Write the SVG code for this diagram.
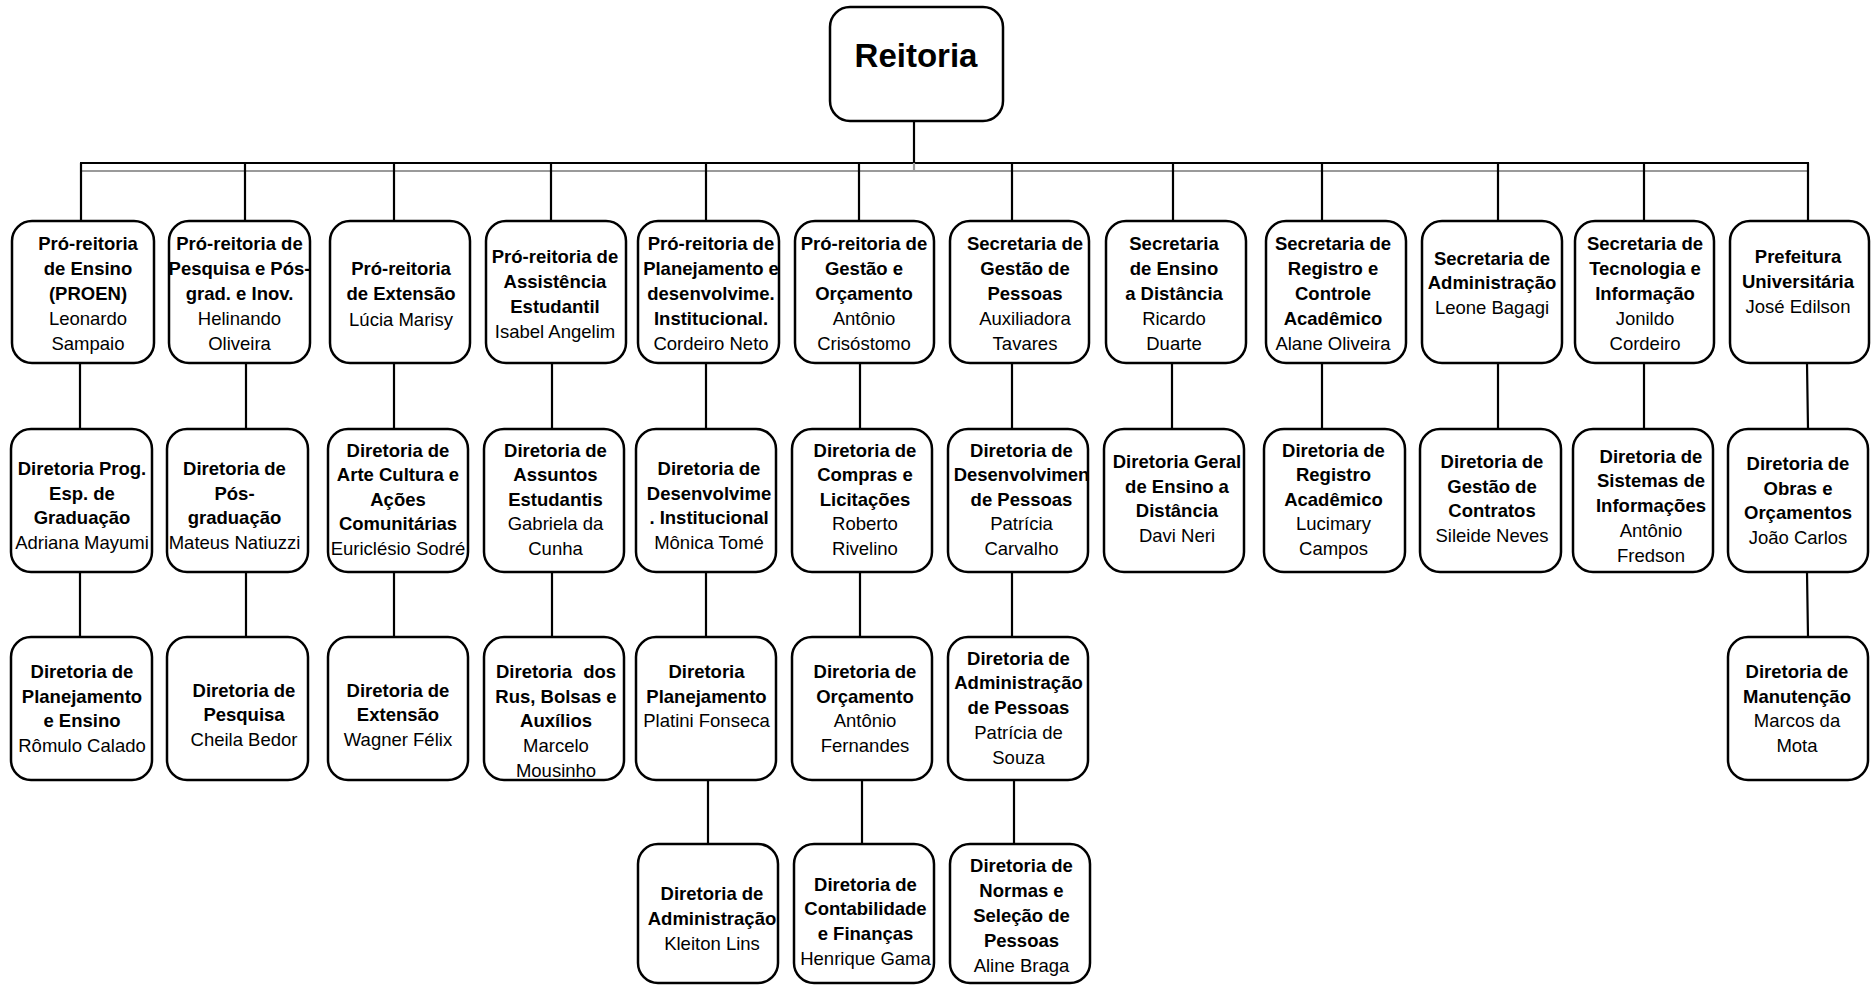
<svg xmlns="http://www.w3.org/2000/svg" width="1871" height="985" viewBox="0 0 1871 985">
<style>
.box{fill:#fff;stroke:#000;stroke-width:2.5}
.t{font-family:"Liberation Sans",Arial,sans-serif;font-size:18.5px;fill:#000;text-anchor:middle}
.b{font-weight:bold}
.big{font-size:33px}
.k{stroke:#000;stroke-width:2.2;fill:none}
.g{stroke:#9a9a9a;stroke-width:2.2;fill:none}
</style>
<rect width="1871" height="985" fill="#fff"/>
<g id="connectors">
<line class="g" x1="81" y1="171" x2="1808" y2="171"/>
<line class="k" x1="80" y1="163" x2="1809" y2="163" stroke-width="3"/>
<line class="k" x1="914" y1="121" x2="914" y2="163"/>
<line class="g" x1="914" y1="163" x2="914" y2="172"/>
<path class="k" d="M81 163V221M245 163V221M394 163V221M551 163V221M706 163V221M859 163V221M1012 163V221M1173 163V221M1322 163V221M1498 163V221M1644 163V221M1808 163V221"/>
<path class="g" d="M81 221V230M245 221V230M394 221V230M551 221V230M706 221V230M859 221V230M1012 221V230M1173 221V230M1322 221V230M1498 221V230M1644 221V230M1808 221V230"/>
<path class="k" d="M80 363V429M246 363V429M394 363V429M552 363V429M706 363V429M860 363V429M1012 363V429M1172 363V429M1322 363V429M1498 363V429M1644 363V429M1807 363L1808 429"/>
<path class="g" d="M80 429V437M246 429V437M394 429V437M552 429V437M706 429V437M860 429V437M1012 429V437M1172 429V437M1322 429V437M1498 429V437M1644 429V437M1808 429V437"/>
<path class="k" d="M80 572V637M246 572V637M394 572V637M552 572V637M706 572V637M860 572V637M1012 572V637M1807 572L1808 637"/>
<path class="g" d="M80 637V645M246 637V645M394 637V645M552 637V645M706 637V645M860 637V645M1012 637V645M1808 637V645"/>
<path class="k" d="M708 780V844M862 780V844M1014 780V844"/>
<path class="g" d="M708 844V852M862 844V852M1014 844V852"/>
</g>
<g id="n-reitoria"><rect class="box" x="830" y="7" width="173" height="114" rx="20"/><text class="t b big" x="916" y="67">Reitoria</text></g>

<g id="n-r1b1"><rect class="box" x="12" y="221" width="142" height="142" rx="20"/><text class="t"><tspan class="b" x="88" y="249.5">Pró-reitoria</tspan><tspan class="b" x="88" y="274.5">de Ensino</tspan><tspan class="b" x="88" y="299.5">(PROEN)</tspan><tspan x="88" y="324.5">Leonardo</tspan><tspan x="88" y="349.5">Sampaio</tspan></text></g>
<g id="n-r1b2"><rect class="box" x="169" y="221" width="141" height="142" rx="20"/><text class="t"><tspan class="b" x="239.5" y="249.5">Pró-reitoria de</tspan><tspan class="b" x="239.5" y="274.5">Pesquisa e Pós-</tspan><tspan class="b" x="239.5" y="299.5">grad. e Inov.</tspan><tspan x="239.5" y="324.5">Helinando</tspan><tspan x="239.5" y="349.5">Oliveira</tspan></text></g>
<g id="n-r1b3"><rect class="box" x="330" y="221" width="140" height="142" rx="20"/><text class="t"><tspan class="b" x="401" y="274.5">Pró-reitoria</tspan><tspan class="b" x="401" y="299.5">de Extensão</tspan><tspan x="401" y="326">Lúcia Marisy</tspan></text></g>
<g id="n-r1b4"><rect class="box" x="486" y="221" width="140" height="142" rx="20"/><text class="t"><tspan class="b" x="555" y="263">Pró-reitoria de</tspan><tspan class="b" x="555" y="288">Assistência</tspan><tspan class="b" x="555" y="313">Estudantil</tspan><tspan x="555" y="338">Isabel Angelim</tspan></text></g>
<g id="n-r1b5"><rect class="box" x="638" y="221" width="141" height="142" rx="20"/><text class="t"><tspan class="b" x="711" y="249.5">Pró-reitoria de</tspan><tspan class="b" x="711" y="274.5">Planejamento e</tspan><tspan class="b" x="711" y="299.5">desenvolvime.</tspan><tspan class="b" x="711" y="324.5">Institucional.</tspan><tspan x="711" y="349.5">Cordeiro Neto</tspan></text></g>
<g id="n-r1b6"><rect class="box" x="795" y="221" width="139" height="142" rx="20"/><text class="t"><tspan class="b" x="864" y="249.5">Pró-reitoria de</tspan><tspan class="b" x="864" y="274.5">Gestão e</tspan><tspan class="b" x="864" y="299.5">Orçamento</tspan><tspan x="864" y="324.5">Antônio</tspan><tspan x="864" y="349.5">Crisóstomo</tspan></text></g>
<g id="n-r1b7"><rect class="box" x="950" y="221" width="139" height="142" rx="20"/><text class="t"><tspan class="b" x="1025" y="249.5">Secretaria de</tspan><tspan class="b" x="1025" y="274.5">Gestão de</tspan><tspan class="b" x="1025" y="299.5">Pessoas</tspan><tspan x="1025" y="324.5">Auxiliadora</tspan><tspan x="1025" y="349.5">Tavares</tspan></text></g>
<g id="n-r1b8"><rect class="box" x="1106" y="221" width="140" height="142" rx="20"/><text class="t"><tspan class="b" x="1174" y="249.5">Secretaria</tspan><tspan class="b" x="1174" y="274.5">de Ensino</tspan><tspan class="b" x="1174" y="299.5">a Distância</tspan><tspan x="1174" y="324.5">Ricardo</tspan><tspan x="1174" y="349.5">Duarte</tspan></text></g>
<g id="n-r1b9"><rect class="box" x="1266" y="221" width="140" height="142" rx="20"/><text class="t"><tspan class="b" x="1333" y="249.5">Secretaria de</tspan><tspan class="b" x="1333" y="274.5">Registro e</tspan><tspan class="b" x="1333" y="299.5">Controle</tspan><tspan class="b" x="1333" y="324.5">Acadêmico</tspan><tspan x="1333" y="349.5">Alane Oliveira</tspan></text></g>
<g id="n-r1b10"><rect class="box" x="1422" y="221" width="140" height="142" rx="20"/><text class="t"><tspan class="b" x="1492" y="264.5">Secretaria de</tspan><tspan class="b" x="1492" y="289">Administração</tspan><tspan x="1492" y="313.5">Leone Bagagi</tspan></text></g>
<g id="n-r1b11"><rect class="box" x="1575" y="221" width="139" height="142" rx="20"/><text class="t"><tspan class="b" x="1645" y="249.5">Secretaria de</tspan><tspan class="b" x="1645" y="274.5">Tecnologia e</tspan><tspan class="b" x="1645" y="299.5">Informação</tspan><tspan x="1645" y="324.5">Jonildo</tspan><tspan x="1645" y="349.5">Cordeiro</tspan></text></g>
<g id="n-r1b12"><rect class="box" x="1730" y="221" width="139" height="142" rx="20"/><text class="t"><tspan class="b" x="1798" y="263">Prefeitura</tspan><tspan class="b" x="1798" y="288">Universitária</tspan><tspan x="1798" y="313">José Edilson</tspan></text></g>

<g id="n-r2b1"><rect class="box" x="11" y="429" width="141" height="143" rx="20"/><text class="t"><tspan class="b" x="82" y="475">Diretoria Prog.</tspan><tspan class="b" x="82" y="499.5">Esp. de</tspan><tspan class="b" x="82" y="524">Graduação</tspan><tspan x="82" y="548.5">Adriana Mayumi</tspan></text></g>
<g id="n-r2b2"><rect class="box" x="167" y="429" width="141" height="143" rx="20"/><text class="t"><tspan class="b" x="234.5" y="475">Diretoria de</tspan><tspan class="b" x="234.5" y="499.5">Pós-</tspan><tspan class="b" x="234.5" y="524">graduação</tspan><tspan x="234.5" y="548.5">Mateus Natiuzzi</tspan></text></g>
<g id="n-r2b3"><rect class="box" x="328" y="429" width="140" height="143" rx="20"/><text class="t"><tspan class="b" x="398" y="456.5">Diretoria de</tspan><tspan class="b" x="398" y="481">Arte Cultura e</tspan><tspan class="b" x="398" y="505.5">Ações</tspan><tspan class="b" x="398" y="530">Comunitárias</tspan><tspan x="398" y="555">Euriclésio Sodré</tspan></text></g>
<g id="n-r2b4"><rect class="box" x="484" y="429" width="140" height="143" rx="20"/><text class="t"><tspan class="b" x="555.5" y="456.5">Diretoria de</tspan><tspan class="b" x="555.5" y="481">Assuntos</tspan><tspan class="b" x="555.5" y="505.5">Estudantis</tspan><tspan x="555.5" y="530">Gabriela da</tspan><tspan x="555.5" y="555">Cunha</tspan></text></g>
<g id="n-r2b5"><rect class="box" x="636" y="429" width="140" height="143" rx="20"/><text class="t"><tspan class="b" x="709" y="475">Diretoria de</tspan><tspan class="b" x="709" y="499.5">Desenvolvime</tspan><tspan class="b" x="709" y="524">. Institucional</tspan><tspan x="709" y="548.5">Mônica Tomé</tspan></text></g>
<g id="n-r2b6"><rect class="box" x="792" y="429" width="140" height="143" rx="20"/><text class="t"><tspan class="b" x="865" y="456.5">Diretoria de</tspan><tspan class="b" x="865" y="481">Compras e</tspan><tspan class="b" x="865" y="505.5">Licitações</tspan><tspan x="865" y="530">Roberto</tspan><tspan x="865" y="555">Rivelino</tspan></text></g>
<g id="n-r2b7"><rect class="box" x="948" y="429" width="140" height="143" rx="20"/><text class="t"><tspan class="b" x="1021.5" y="456.5">Diretoria de</tspan><tspan class="b" x="1021.5" y="481">Desenvolvimen</tspan><tspan class="b" x="1021.5" y="505.5">de Pessoas</tspan><tspan x="1021.5" y="530">Patrícia</tspan><tspan x="1021.5" y="555">Carvalho</tspan></text></g>
<g id="n-r2b8"><rect class="box" x="1104" y="429" width="140" height="143" rx="20"/><text class="t"><tspan class="b" x="1177" y="468">Diretoria Geral</tspan><tspan class="b" x="1177" y="492.5">de Ensino a</tspan><tspan class="b" x="1177" y="517">Distância</tspan><tspan x="1177" y="542">Davi Neri</tspan></text></g>
<g id="n-r2b9"><rect class="box" x="1264" y="429" width="141" height="143" rx="20"/><text class="t"><tspan class="b" x="1333.5" y="456.5">Diretoria de</tspan><tspan class="b" x="1333.5" y="481">Registro</tspan><tspan class="b" x="1333.5" y="505.5">Acadêmico</tspan><tspan x="1333.5" y="530">Lucimary</tspan><tspan x="1333.5" y="555">Campos</tspan></text></g>
<g id="n-r2b10"><rect class="box" x="1420" y="429" width="141" height="143" rx="20"/><text class="t"><tspan class="b" x="1492" y="468">Diretoria de</tspan><tspan class="b" x="1492" y="492.5">Gestão de</tspan><tspan class="b" x="1492" y="517">Contratos</tspan><tspan x="1492" y="542">Sileide Neves</tspan></text></g>
<g id="n-r2b11"><rect class="box" x="1573" y="429" width="140" height="143" rx="20"/><text class="t"><tspan class="b" x="1651" y="462.5">Diretoria de</tspan><tspan class="b" x="1651" y="487">Sistemas de</tspan><tspan class="b" x="1651" y="511.5">Informações</tspan><tspan x="1651" y="536.5">Antônio</tspan><tspan x="1651" y="561.5">Fredson</tspan></text></g>
<g id="n-r2b12"><rect class="box" x="1728" y="429" width="140" height="143" rx="20"/><text class="t"><tspan class="b" x="1798" y="470">Diretoria de</tspan><tspan class="b" x="1798" y="494.5">Obras e</tspan><tspan class="b" x="1798" y="519">Orçamentos</tspan><tspan x="1798" y="544">João Carlos</tspan></text></g>

<g id="n-r3b1"><rect class="box" x="11" y="637" width="141" height="143" rx="20"/><text class="t"><tspan class="b" x="82" y="678">Diretoria de</tspan><tspan class="b" x="82" y="703">Planejamento</tspan><tspan class="b" x="82" y="727">e Ensino</tspan><tspan x="82" y="752">Rômulo Calado</tspan></text></g>
<g id="n-r3b2"><rect class="box" x="167" y="637" width="141" height="143" rx="20"/><text class="t"><tspan class="b" x="244" y="696.5">Diretoria de</tspan><tspan class="b" x="244" y="720.5">Pesquisa</tspan><tspan x="244" y="745.5">Cheila Bedor</tspan></text></g>
<g id="n-r3b3"><rect class="box" x="328" y="637" width="140" height="143" rx="20"/><text class="t"><tspan class="b" x="398" y="696.5">Diretoria de</tspan><tspan class="b" x="398" y="720.5">Extensão</tspan><tspan x="398" y="745.5">Wagner Félix</tspan></text></g>
<g id="n-r3b4"><rect class="box" x="484" y="637" width="140" height="143" rx="20"/><text class="t"><tspan class="b" x="556" y="678" word-spacing="6">Diretoria dos</tspan><tspan class="b" x="556" y="703">Rus, Bolsas e</tspan><tspan class="b" x="556" y="727">Auxílios</tspan><tspan x="556" y="752">Marcelo</tspan><tspan x="556" y="777">Mousinho</tspan></text></g>
<g id="n-r3b5"><rect class="box" x="636" y="637" width="140" height="143" rx="20"/><text class="t"><tspan class="b" x="706.5" y="678">Diretoria</tspan><tspan class="b" x="706.5" y="703">Planejamento</tspan><tspan x="706.5" y="727">Platini Fonseca</tspan></text></g>
<g id="n-r3b6"><rect class="box" x="792" y="637" width="140" height="143" rx="20"/><text class="t"><tspan class="b" x="865" y="678">Diretoria de</tspan><tspan class="b" x="865" y="703">Orçamento</tspan><tspan x="865" y="727">Antônio</tspan><tspan x="865" y="752">Fernandes</tspan></text></g>
<g id="n-r3b7"><rect class="box" x="948" y="637" width="140" height="143" rx="20"/><text class="t"><tspan class="b" x="1018.5" y="665">Diretoria de</tspan><tspan class="b" x="1018.5" y="689">Administração</tspan><tspan class="b" x="1018.5" y="714">de Pessoas</tspan><tspan x="1018.5" y="739">Patrícia de</tspan><tspan x="1018.5" y="763.5">Souza</tspan></text></g>
<g id="n-r3b12"><rect class="box" x="1728" y="637" width="140" height="143" rx="20"/><text class="t"><tspan class="b" x="1797" y="678">Diretoria de</tspan><tspan class="b" x="1797" y="703">Manutenção</tspan><tspan x="1797" y="727">Marcos da</tspan><tspan x="1797" y="752">Mota</tspan></text></g>

<g id="n-r4b5"><rect class="box" x="638" y="844" width="140" height="139" rx="20"/><text class="t"><tspan class="b" x="712" y="900">Diretoria de</tspan><tspan class="b" x="712" y="925">Administração</tspan><tspan x="712" y="950">Kleiton Lins</tspan></text></g>
<g id="n-r4b6"><rect class="box" x="794" y="844" width="140" height="139" rx="20"/><text class="t"><tspan class="b" x="865.5" y="890.5">Diretoria de</tspan><tspan class="b" x="865.5" y="915">Contabilidade</tspan><tspan class="b" x="865.5" y="939.5">e Finanças</tspan><tspan x="865.5" y="964.5">Henrique Gama</tspan></text></g>
<g id="n-r4b7"><rect class="box" x="950" y="844" width="140" height="139" rx="20"/><text class="t"><tspan class="b" x="1021.5" y="872">Diretoria de</tspan><tspan class="b" x="1021.5" y="896.5">Normas e</tspan><tspan class="b" x="1021.5" y="921.5">Seleção de</tspan><tspan class="b" x="1021.5" y="946.5">Pessoas</tspan><tspan x="1021.5" y="971.5">Aline Braga</tspan></text></g>
</svg>
